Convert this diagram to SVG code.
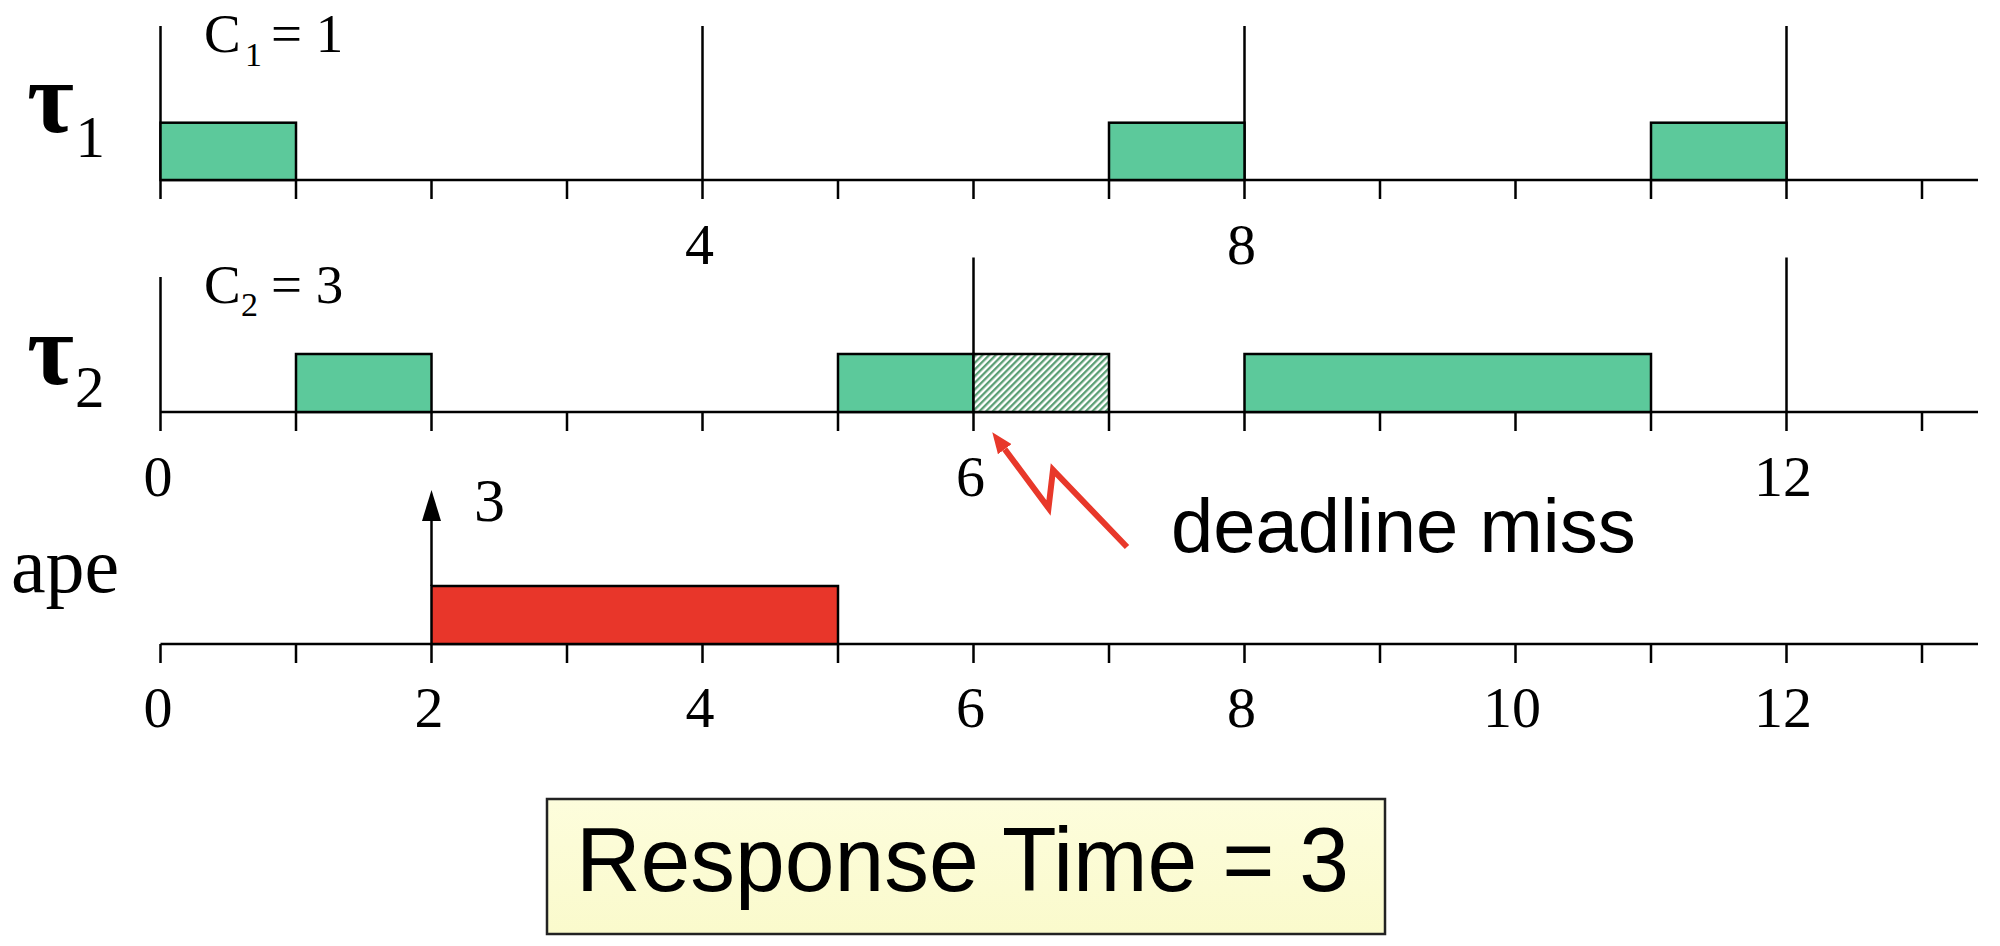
<svg xmlns="http://www.w3.org/2000/svg" width="2000" height="946" viewBox="0 0 2000 946">
<style>
.ax{stroke:#000;stroke-width:2.5;fill:none}
.job{fill:#5CC99B;stroke:#000;stroke-width:2.5}
.ape{fill:#E8362A;stroke:#000;stroke-width:2.5}
.hat{fill:url(#hatch);stroke:#000;stroke-width:2.5}
.num{font-family:"Liberation Serif","Times New Roman",serif;font-size:58px;fill:#000;text-anchor:middle}
.ser{font-family:"Liberation Serif","Times New Roman",serif;fill:#000}
.sans{font-family:"Liberation Sans",Arial,sans-serif;fill:#000}
</style>
<defs>
<pattern id="hatch" patternUnits="userSpaceOnUse" width="4.7" height="4.7" patternTransform="rotate(45)">
<rect width="4.7" height="4.7" fill="#ffffff"/>
<rect width="2.3" height="4.7" fill="#5A9E74"/>
</pattern>
<linearGradient id="yel" x1="0" y1="0" x2="0" y2="1">
<stop offset="0" stop-color="#FDFDDC"/>
<stop offset="1" stop-color="#FAFACC"/>
</linearGradient>
<marker id="blackhead" markerUnits="userSpaceOnUse" viewBox="0 0 31 19" markerWidth="31" markerHeight="19" refX="0" refY="9.5" orient="auto">
<path d="M0,0 L31,9.5 L0,19 z" fill="#000"/>
</marker>
<marker id="redhead" markerUnits="userSpaceOnUse" viewBox="0 0 21 17" markerWidth="21" markerHeight="17" refX="0" refY="8.5" orient="auto">
<path d="M0,0 L21,8.5 L0,17 z" fill="#E8382A"/>
</marker>
</defs>
<rect width="2000" height="946" fill="#fff"/>

<g id="connectors">
<path class="ax" d="M160.5,180 H1978 M160.5,180 V199 M296,180 V199 M431.5,180 V199 M567,180 V199 M702.5,180 V199 M838,180 V199 M973.5,180 V199 M1109,180 V199 M1244.5,180 V199 M1380,180 V199 M1515.5,180 V199 M1651,180 V199 M1786.5,180 V199 M1922,180 V199"/>
<path class="ax" d="M160.5,26 V180 M702.5,26 V180 M1244.5,26 V180 M1786.5,26 V180"/>
<path class="ax" d="M160.5,412 H1978 M160.5,412 V431 M296,412 V431 M431.5,412 V431 M567,412 V431 M702.5,412 V431 M838,412 V431 M973.5,412 V431 M1109,412 V431 M1244.5,412 V431 M1380,412 V431 M1515.5,412 V431 M1651,412 V431 M1786.5,412 V431 M1922,412 V431"/>
<path class="ax" d="M160.5,277 V412 M973.5,257.5 V412 M1786.5,257.5 V412"/>
<path class="ax" d="M160.5,644 H1978 M160.5,644 V663 M296,644 V663 M431.5,644 V663 M567,644 V663 M702.5,644 V663 M838,644 V663 M973.5,644 V663 M1109,644 V663 M1244.5,644 V663 M1380,644 V663 M1515.5,644 V663 M1651,644 V663 M1786.5,644 V663 M1922,644 V663"/>
<path d="M431.5,586 V521" stroke="#000" stroke-width="2.5" fill="none" marker-end="url(#blackhead)"/>
<polyline points="1127,547 1053,470 1048.5,508 1004.8,449.2" fill="none" stroke="#E8382A" stroke-width="6" stroke-linejoin="miter" marker-end="url(#redhead)"/>
</g>

<g id="tau1">
<text class="ser" x="27" y="132" font-size="102" font-weight="bold">τ</text>
<text class="ser" x="75.5" y="157" font-size="59">1</text>
<text class="ser" x="204" y="52" font-size="55">C</text>
<text class="ser" x="245" y="66" font-size="34">1</text>
<text class="ser" x="271" y="52" font-size="55">= 1</text>
<rect class="job" x="160.5" y="122.7" width="135.5" height="57.3"/>
<rect class="job" x="1109" y="122.7" width="135.5" height="57.3"/>
<rect class="job" x="1651" y="122.7" width="135.5" height="57.3"/>
</g>

<g id="tau2">
<text class="ser" x="27" y="384" font-size="102" font-weight="bold">τ</text>
<text class="ser" x="75" y="407" font-size="59">2</text>
<text class="ser" x="204" y="303" font-size="55">C</text>
<text class="ser" x="241" y="316" font-size="34">2</text>
<text class="ser" x="271" y="303" font-size="55">= 3</text>
<rect class="job" x="296" y="354" width="135.5" height="58"/>
<rect class="job" x="838" y="354" width="135.5" height="58"/>
<rect class="hat" x="973.5" y="354" width="135.5" height="58"/>
<rect class="job" x="1244.5" y="354" width="406.5" height="58"/>
</g>

<g id="ape">
<text class="ser" x="11" y="592" font-size="78">ape</text>
<rect class="ape" x="431.5" y="586" width="406.5" height="58"/>
<text class="ser" x="474" y="521" font-size="62">3</text>
</g>

<g id="labels">
<text class="num" x="699.5" y="264">4</text>
<text class="num" x="1241.5" y="264">8</text>
<text class="num" x="158" y="496">0</text>
<text class="num" x="970.5" y="496">6</text>
<text class="num" x="1783" y="496">12</text>
<text class="num" x="158" y="727">0</text>
<text class="num" x="429" y="727">2</text>
<text class="num" x="700" y="727">4</text>
<text class="num" x="970.5" y="727">6</text>
<text class="num" x="1241.5" y="727">8</text>
<text class="num" x="1512" y="727">10</text>
<text class="num" x="1783" y="727">12</text>
</g>

<g id="deadline-miss">
<text class="sans" x="1171" y="552" font-size="76">deadline miss</text>
</g>

<g id="response-time">
<rect x="547" y="799" width="838" height="135" fill="url(#yel)" stroke="#222" stroke-width="2.5"/>
<text class="sans" x="576" y="891" font-size="90" textLength="773" lengthAdjust="spacingAndGlyphs">Response Time = 3</text>
</g>
</svg>
